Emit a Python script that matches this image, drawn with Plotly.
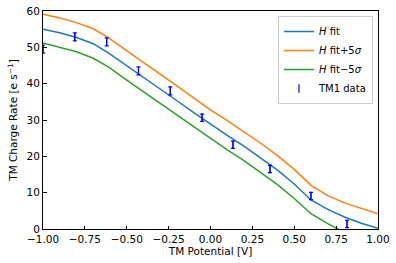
import plotly.graph_objects as go

fit_x = [-1.0, -0.9, -0.8, -0.7, -0.61, -0.5, -0.4, -0.3, -0.2, -0.1, 0.0,
         0.1, 0.2, 0.3, 0.4, 0.5, 0.6, 0.7, 0.8, 0.9, 1.0]
h_fit = [55.0, 54.0, 52.7, 51.0, 48.5, 45.0, 41.8, 38.6, 35.3, 32.0, 28.8,
         25.8, 22.8, 19.6, 16.2, 12.4, 8.0, 5.4, 3.3, 1.6, 0.2]
h_plus = [59.1, 58.1, 56.8, 55.1, 52.7, 49.0, 45.8, 42.6, 39.3, 36.0, 32.8,
          29.8, 26.8, 23.6, 20.2, 16.4, 12.0, 9.2, 7.2, 5.6, 4.2]
h_minus = [51.2, 50.1, 48.8, 47.0, 44.6, 41.0, 37.8, 34.6, 31.3, 28.0, 24.8,
           21.8, 18.8, 15.6, 12.2, 8.4, 4.2, 1.5, -1.0, -2.6, -4.0]

data_x = [-1.0, -0.81, -0.62, -0.43, -0.24, -0.05, 0.134, 0.355, 0.60, 0.815]
data_y = [49.5, 52.9, 51.5, 43.5, 38.0, 30.6, 23.2, 16.5, 9.1, 1.4]
data_err = [1.1, 1.1, 1.1, 1.1, 1.1, 1.0, 1.0, 1.0, 1.0, 1.0]

x_ticks = [-1.0, -0.75, -0.5, -0.25, 0.0, 0.25, 0.5, 0.75, 1.0]
y_ticks = [0, 10, 20, 30, 40, 50, 60]

fig = go.Figure()
fig.add_trace(go.Scatter(x=fit_x, y=h_fit, mode="lines", name="<i>H</i> fit",
                         line=dict(color="#1f77b4", width=1.5)))
fig.add_trace(go.Scatter(x=fit_x, y=h_plus, mode="lines", name="<i>H</i> fit+5<i>σ</i>",
                         line=dict(color="#ff7f0e", width=1.5)))
fig.add_trace(go.Scatter(x=fit_x, y=h_minus, mode="lines", name="<i>H</i> fit−5<i>σ</i>",
                         line=dict(color="#2ca02c", width=1.5)))
fig.add_trace(go.Scatter(x=data_x, y=data_y, mode="markers", name="TM1 data",
                         marker=dict(symbol="line-ns-open", size=6, color="blue",
                                     line=dict(color="blue", width=1.2)),
                         error_y=dict(type="data", array=data_err, visible=True,
                                      color="blue", thickness=1.2, width=2)))

axis_common = dict(showline=True, linecolor="black", linewidth=1, mirror=True,
                   ticks="inside", ticklen=3.5, tickcolor="black", showgrid=False,
                   zeroline=False, tickfont=dict(size=10.5, color="black"),
                   automargin=False)
fig.update_xaxes(range=[-1, 1], tickvals=x_ticks, tickformat=".2f",
                 title=dict(text="TM Potential [V]", font=dict(size=10.5, color="black"), standoff=4),
                 **axis_common)
fig.update_yaxes(range=[0, 60], tickvals=y_ticks,
                 title=dict(text="TM Charge Rate [e s<sup>−1</sup>]", font=dict(size=10.5, color="black"), standoff=6),
                 **axis_common)
fig.update_layout(
    width=396, height=263,
    margin=dict(l=43, r=18, t=11, b=34),
    paper_bgcolor="white", plot_bgcolor="white",
    font=dict(family="DejaVu Sans", size=10.5, color="black"),
    legend=dict(x=0.985, y=0.977, xanchor="right", yanchor="top",
                bgcolor="rgba(255,255,255,0.8)", bordercolor="#cccccc", borderwidth=1,
                font=dict(size=10), itemwidth=30, tracegroupgap=0),
    showlegend=True,
)
fig.write_html("out.html", config={"displayModeBar": False},
               post_script="document.body.style.margin='0';document.body.style.overflow='hidden';")
